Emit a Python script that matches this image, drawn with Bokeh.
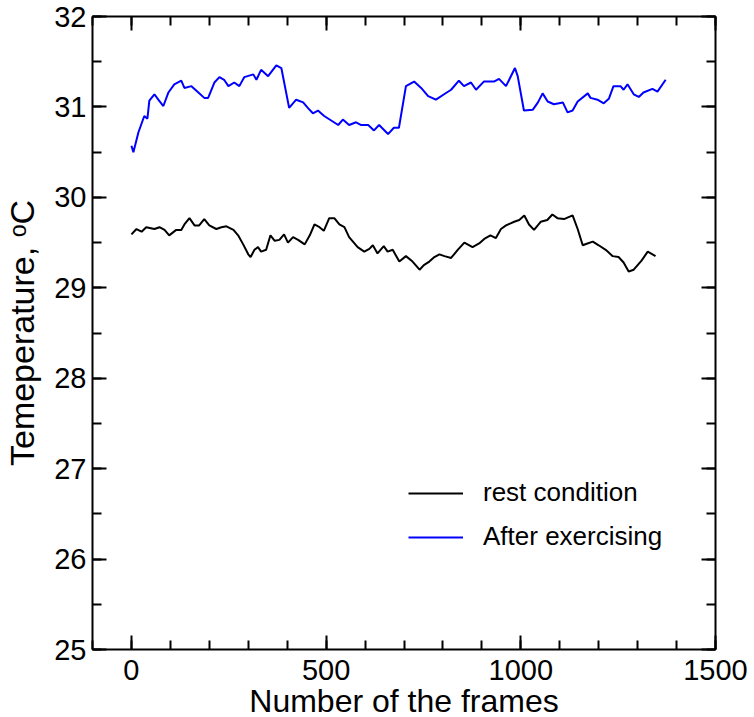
from bokeh.plotting import figure
from bokeh.models import (LinearAxis, SingleIntervalTicker, Legend, LegendItem,
                          ColumnDataSource, Range1d)
from bokeh.embed import file_html
from bokeh.resources import INLINE

# ---- data ----
blue_x = [0, 5, 18, 33, 41, 46, 59, 69, 82, 95, 110, 128, 136, 154, 167, 187, 197,
          213, 226, 238, 249, 264, 277, 290, 313, 321, 333, 351, 372, 385, 405, 423,
          441, 453, 466, 479, 495, 513, 531, 543, 559, 577, 590, 608, 623, 636, 659,
          674, 687, 705, 726, 744, 762, 782, 803, 821, 841, 854, 872, 885, 905, 931,
          944, 962, 985, 992, 1008, 1031, 1044, 1056, 1069, 1085, 1108, 1120, 1133,
          1146, 1172, 1179, 1197, 1213, 1226, 1238, 1256, 1264, 1274, 1290, 1303,
          1315, 1338, 1351, 1372]
blue_y = [30.57, 30.50, 30.72, 30.90, 30.87, 31.07, 31.14, 31.08, 31.01, 31.16, 31.25,
          31.29, 31.21, 31.23, 31.18, 31.10, 31.10, 31.27, 31.33, 31.30, 31.23, 31.27,
          31.23, 31.33, 31.36, 31.30, 31.41, 31.34, 31.46, 31.43, 30.99, 31.08, 31.05,
          30.99, 30.93, 30.96, 30.90, 30.85, 30.80, 30.86, 30.80, 30.83, 30.80, 30.80,
          30.74, 30.80, 30.70, 30.77, 30.77, 31.23, 31.28, 31.21, 31.12, 31.08, 31.14,
          31.19, 31.29, 31.23, 31.27, 31.19, 31.28, 31.28, 31.31, 31.23, 31.43, 31.34,
          30.96, 30.97, 31.05, 31.15, 31.06, 31.03, 31.05, 30.94, 30.96, 31.06, 31.15,
          31.10, 31.08, 31.04, 31.09, 31.23, 31.23, 31.19, 31.25, 31.14, 31.11, 31.16,
          31.20, 31.17, 31.30]

black_x = [0, 13, 26, 38, 59, 72, 85, 97, 115, 128, 136, 149, 162, 174, 187, 200, 218,
           231, 244, 262, 274, 287, 300, 306, 316, 325, 333, 346, 357, 368, 380, 392,
           402, 415, 428, 445, 458, 470, 483, 494, 508, 521, 534, 547, 559, 581, 598,
           611, 620, 632, 648, 658, 671, 688, 705, 722, 740, 751, 765, 778, 791, 804,
           821, 838, 855, 876, 893, 906, 922, 936, 949, 962, 983, 996, 1009, 1021,
           1034, 1051, 1068, 1081, 1094, 1111, 1133, 1146, 1159, 1171, 1185, 1200,
           1218, 1236, 1251, 1264, 1277, 1290, 1310, 1326, 1346]
black_y = [29.59, 29.65, 29.62, 29.67, 29.65, 29.67, 29.64, 29.58, 29.64, 29.64, 29.70,
           29.77, 29.69, 29.69, 29.76, 29.69, 29.65, 29.67, 29.68, 29.64, 29.58, 29.48,
           29.37, 29.34, 29.42, 29.45, 29.40, 29.42, 29.58, 29.52, 29.53, 29.59, 29.50,
           29.56, 29.53, 29.48, 29.58, 29.70, 29.67, 29.63, 29.77, 29.77, 29.70, 29.67,
           29.56, 29.45, 29.40, 29.43, 29.47, 29.38, 29.46, 29.40, 29.42, 29.29, 29.35,
           29.29, 29.20, 29.25, 29.29, 29.34, 29.37, 29.35, 29.33, 29.42, 29.50, 29.45,
           29.49, 29.54, 29.58, 29.55, 29.65, 29.69, 29.73, 29.75, 29.80, 29.70, 29.64,
           29.73, 29.75, 29.81, 29.77, 29.76, 29.80, 29.65, 29.47, 29.49, 29.51, 29.47,
           29.42, 29.35, 29.34, 29.28, 29.18, 29.20, 29.30, 29.40, 29.35]

series_names = ["rest condition", "After exercising"]
x_label = "Number of the frames"
y_label = "Temeperature, \u1d52C"

FONT = "Liberation Sans"

p = figure(frame_width=623, frame_height=633, output_backend="svg",
           toolbar_location=None, x_axis_location=None, y_axis_location=None,
           min_border_left=91, min_border_right=40, min_border_top=16,
           min_border_bottom=40)
p.x_range = Range1d(-100, 1500)
p.y_range = Range1d(25, 32)
p.xgrid.visible = False
p.ygrid.visible = False
p.outline_line_color = None
p.background_fill_color = "white"
p.border_fill_color = "white"


def style_axis(ax, interval, nminor, labels):
    ax.ticker = SingleIntervalTicker(interval=interval, num_minor_ticks=nminor)
    ax.axis_line_width = 2
    ax.axis_line_color = "black"
    ax.major_tick_line_width = 2
    ax.minor_tick_line_width = 2
    ax.major_tick_in = 14
    ax.major_tick_out = 0
    ax.minor_tick_in = 9
    ax.minor_tick_out = 0
    ax.major_tick_line_color = "black"
    ax.minor_tick_line_color = "black"
    if labels:
        ax.major_label_text_font = FONT
        ax.major_label_text_font_size = "29px"
        ax.major_label_text_color = "black"
        ax.axis_label_text_font = FONT
        ax.axis_label_text_font_size = "32px"
        ax.axis_label_text_font_style = "normal"
        ax.axis_label_text_color = "black"
    else:
        ax.major_label_text_font_size = "1px"
        ax.major_label_text_color = None
        ax.major_label_standoff = 0


xb = LinearAxis(axis_label=x_label)
style_axis(xb, 500, 5, True)
xb.major_label_standoff = 10
xb.axis_label_standoff = 0
p.add_layout(xb, "below")

yl = LinearAxis(axis_label=y_label)
style_axis(yl, 1, 2, True)
yl.major_label_standoff = 6
yl.axis_label_standoff = 10
yl.axis_label_text_font_size = "34px"
p.add_layout(yl, "left")

xt = LinearAxis()
style_axis(xt, 500, 5, False)
p.add_layout(xt, "above")

yr = LinearAxis()
style_axis(yr, 1, 2, False)
p.add_layout(yr, "right")

src_black = ColumnDataSource(dict(x=black_x, y=black_y))
src_blue = ColumnDataSource(dict(x=blue_x, y=blue_y))

r_black = p.line("x", "y", source=src_black, line_color="black", line_width=2)
r_blue = p.line("x", "y", source=src_blue, line_color="#0000ff", line_width=2)

legend = Legend(items=[LegendItem(label=series_names[0], renderers=[r_black]),
                       LegendItem(label=series_names[1], renderers=[r_blue])],
                location=(316, 97), padding=0, margin=0, spacing=13,
                glyph_width=55, glyph_height=30, label_height=30,
                label_standoff=20, label_text_font=FONT,
                label_text_font_size="26px", label_text_color="black",
                border_line_color=None, background_fill_alpha=0)
p.add_layout(legend)

open("out.html", "w").write(file_html(p, INLINE))
